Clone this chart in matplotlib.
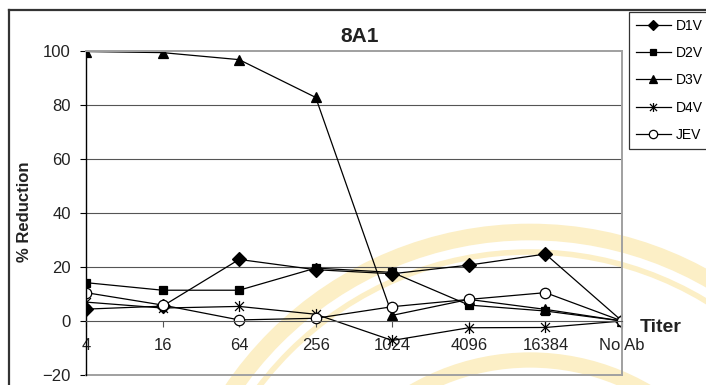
import matplotlib
matplotlib.use("Agg")
import matplotlib.pyplot as plt
from matplotlib.path import Path
from matplotlib.patches import Circle
from matplotlib.lines import Line2D

plt.rcParams['font.family'] = ['Liberation Sans', 'DejaVu Sans']

titers = ['4', '16', '64', '256', '1024', '4096', '16384', 'No Ab']
d1v = [4.4, 5.5, 22.8, 19.0, 17.5, 20.7, 24.8, 0]
d2v = [14.2, 11.4, 11.4, 19.6, 18.0, 5.9, 3.7, 0]
d3v = [99.8, 99.4, 96.8, 82.8, 2.1, 8.0, 4.3, 0]
d4v = [7.0, 4.8, 5.4, 2.5, -7.2, -2.5, -2.4, 0]
jev = [10.5, 5.9, 0.4, 1.0, 5.3, 8.0, 10.5, 0]

W, H = 706, 385
fig = plt.figure(figsize=(W / 100, H / 100), dpi=100)

# faint seal behind the chart
for r, lw in [(360, 12), (340, 4), (232, 11)]:
    fig.add_artist(Circle((530, H - 592), r, transform=None, fill=False,
                          lw=lw, color='#fcefc6', zorder=-5))

# outer chart frame (runs off the right and bottom edges)
fig.add_artist(Line2D([9 / W, 1.01], [1 - 10 / H, 1 - 10 / H],
                      transform=fig.transFigure, color='#333333', lw=1.6))
fig.add_artist(Line2D([9 / W, 9 / W], [1 - 10 / H, -0.01],
                      transform=fig.transFigure, color='#333333', lw=1.6))

ax = fig.add_axes([86 / W, 10 / H, 536 / W, 324 / H])
ax.set_facecolor('none')

star = Path([(-1, -1), (1, 1), (-1, 1), (1, -1), (0, -1.25), (0, 1.25)],
            [Path.MOVETO, Path.LINETO, Path.MOVETO, Path.LINETO,
             Path.MOVETO, Path.LINETO])

x = list(range(len(titers)))
kw = dict(color='black', lw=0.9, mec='black', mew=0.9)
ax.plot(x, d1v, marker='D', ms=7, mfc='black', label='D1V', **kw)
ax.plot(x, d2v, marker='s', ms=5.5, mfc='black', label='D2V', **kw)
ax.plot(x, d3v, marker='^', ms=7, mfc='black', label='D3V', **kw)
ax.plot(x, d4v, marker=star, ms=8, mfc='none', label='D4V', **kw)
ax.plot(x, jev, marker='o', ms=7.5, mfc='white', label='JEV', **kw)

ax.set_xlim(0, 7)
ax.set_ylim(-20, 100)
ax.set_yticks(range(-20, 101, 20))
for y in [20, 40, 60, 80]:
    ax.axhline(y, color='#555555', lw=0.8, zorder=0.5)
ax.axhline(-20, color='#a0a0a0', lw=1.4, clip_on=False)

ax.spines['bottom'].set_position(('data', 0))
ax.spines['bottom'].set_color('#555555')
ax.spines['bottom'].set_linewidth(0.8)
ax.spines['left'].set_color('black')
ax.spines['left'].set_linewidth(1.0)
for s in ['top', 'right']:
    ax.spines[s].set_color('#a0a0a0')
    ax.spines[s].set_linewidth(1.4)

ax.set_xticks(x)
ax.set_xticklabels(titers)
ax.tick_params(axis='x', direction='out', length=4, width=0.8,
               color='#555555', labelsize=12, pad=8, labelcolor='#222222')
ax.tick_params(axis='y', direction='out', length=4, width=0.8,
               labelsize=12, pad=7, labelcolor='#222222')

fig.text(360 / W, 1 - 37 / H, '8A1', fontsize=15, fontweight='bold',
         ha='center', va='center', color='#222222')
fig.text(25 / W, 1 - 212 / H, '% Reduction', fontsize=12, fontweight='bold',
         rotation=90, ha='center', va='center', color='#222222')
fig.text(640 / W, 1 - 328 / H, 'Titer', fontsize=14, fontweight='bold',
         ha='left', va='center', color='#222222')

leg = fig.legend(loc='upper left', bbox_to_anchor=(629 / W, 1 - 12 / H),
                 bbox_transform=fig.transFigure, borderaxespad=0,
                 fontsize=10, frameon=True, fancybox=False, edgecolor='black',
                 handlelength=2.5, handletextpad=0.35, borderpad=0.5,
                 labelspacing=0.95, markerscale=0.8)
leg.get_frame().set_linewidth(0.9)

fig.savefig('out.png', dpi=100)
